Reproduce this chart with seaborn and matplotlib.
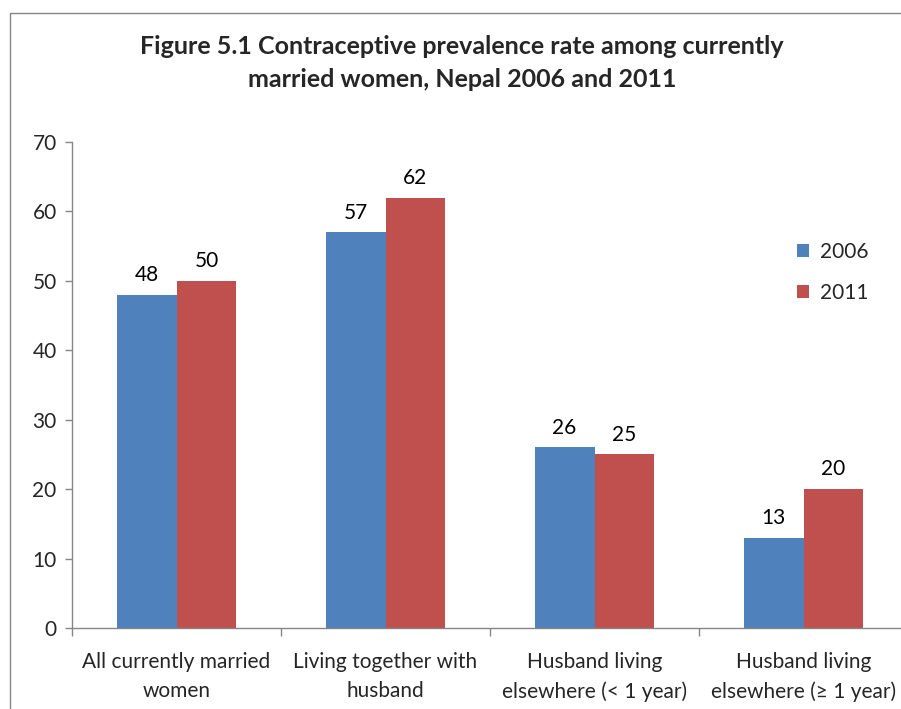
import matplotlib
matplotlib.use("Agg")
import matplotlib.pyplot as plt
import seaborn as sns
import pandas as pd
from matplotlib.patches import Rectangle

categories = ["All currently married\nwomen", "Living together with\nhusband",
              "Husband living\nelsewhere (< 1 year)", "Husband living\nelsewhere (\u2265 1 year)"]
years = ["2006", "2011"]
values_2006 = [48, 57, 26, 13]
values_2011 = [50, 62, 25, 20]
yticks = [0, 10, 20, 30, 40, 50, 60, 70]
title = "Figure 5.1 Contraceptive prevalence rate among currently\nmarried women, Nepal 2006 and 2011"

df = pd.DataFrame({
    "category": categories * 2,
    "year": [years[0]] * 4 + [years[1]] * 4,
    "value": values_2006 + values_2011,
})

sns.set_theme(style="white")
plt.rcParams['font.family'] = ['Lato', 'DejaVu Sans']

fig = plt.figure(figsize=(9.01, 7.09), dpi=100)
ax = fig.add_axes([72/901, 81/709, 836/901, 486/709])

palette = {"2006": "#4F81BD", "2011": "#C0504D"}
sns.barplot(data=df, x="category", y="value", hue="year", order=categories,
            hue_order=years, palette=palette, width=0.574, saturation=1,
            ax=ax, legend=True, linewidth=0)

for cont in ax.containers:
    ax.bar_label(cont, labels=[f"{v:.0f}" for v in cont.datavalues],
                 padding=7, fontsize=15, color="#000000")

ax.set_xlim(-0.5, 3.5)
ax.set_ylim(0, 70)
ax.set_yticks(yticks)
ax.set_yticklabels([str(t) for t in yticks], fontsize=15)
ax.set_xlabel("")
ax.set_ylabel("")
ax.tick_params(axis="x", which="major", length=0, labelsize=15, pad=17)
ax.set_xticks([-0.5, 0.5, 1.5, 2.5, 3.5], minor=True)
ax.tick_params(axis="x", which="minor", length=6, width=1, color="#868686", direction="out", bottom=True)
ax.tick_params(axis="y", length=5, width=1, color="#868686", direction="out", left=True, pad=6)
for lbl in ax.get_xticklabels():
    lbl.set_linespacing(1.57)

for s in ["top", "right"]:
    ax.spines[s].set_visible(False)
for s in ["left", "bottom"]:
    ax.spines[s].set_color("#868686")
    ax.spines[s].set_linewidth(1)

leg = ax.legend(loc="upper left", bbox_to_anchor=(778/901, 1 - 223/709), bbox_transform=fig.transFigure,
                frameon=False, fontsize=15, handlelength=0.6, handleheight=0.6,
                labelspacing=1.0, handletextpad=0.5)

fig.text(462/901, 1 - 63/709, title, ha="center", va="center", fontsize=18,
         fontweight="bold", linespacing=1.55)

fig.patches.append(Rectangle((10/901, -0.1), 1.2, 0.1 + 1 - 13/709, transform=fig.transFigure,
                             fill=False, edgecolor="#868686", linewidth=1))

fig.savefig("out.png", dpi=100)
